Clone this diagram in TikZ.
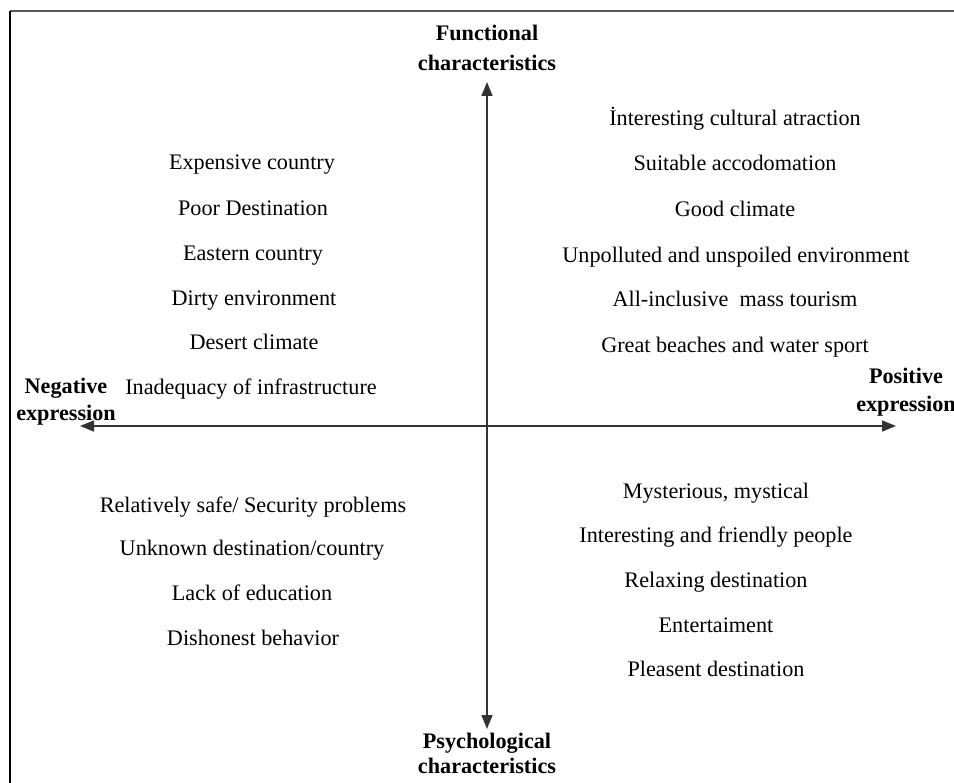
\documentclass[tikz,border=0pt]{standalone}
\usepackage{fontspec}
\setmainfont{Liberation Serif}
\usetikzlibrary{arrows.meta}
\begin{document}
\begin{tikzpicture}[x=1pt,y=-1pt,
  item/.style={font=\fontsize{22.2}{26}\selectfont, inner sep=0pt, text height=15pt, text depth=0pt, anchor=center},
  axlabel/.style={inner sep=0pt, align=center, anchor=north},
  axis/.style={line width=1.6pt, draw=black!80, -{Triangle[length=14pt,width=11pt]}}]
\useasboundingbox (0,0) rectangle (954,783);
% frame (top and left edges)
\draw[line width=1.2pt, black!65] (954,11) -- (10,11);
\draw[line width=1.2pt, black] (10,11) -- (10,783);
% axes
\coordinate (top) at (487,82);
\coordinate (bot) at (487,729);
\coordinate (lft) at (80,426);
\coordinate (rgt) at (896,426);
\coordinate (ctr) at (487,426);
\draw[axis] (ctr) -- (top);
\draw[axis] (ctr) -- (bot);
\draw[axis] (ctr) -- (lft);
\draw[axis] (ctr) -- (rgt);
% axis labels
\node[axlabel, font=\fontsize{22.2}{30}\selectfont\bfseries] (fun) at (487,25) {Functional\\characteristics};
\node[axlabel, font=\fontsize{22.2}{25}\selectfont\bfseries] (psy) at (487,733) {Psychological\\characteristics};
\node[axlabel, font=\fontsize{22.2}{27}\selectfont\bfseries] (neg) at (66,378) {Negative\\expression};
\node[axlabel, font=\fontsize{22.2}{28}\selectfont\bfseries] (pos) at (906,368) {Positive\\expression};
% top left
\node[item] (tl1) at (252,162) {Expensive country};
\node[item] (tl2) at (253,208) {Poor Destination};
\node[item] (tl3) at (253,253) {Eastern country};
\node[item] (tl4) at (254,298) {Dirty environment};
\node[item] (tl5) at (254,342) {Desert climate};
\node[item] (tl6) at (251,387) {Inadequacy of infrastructure};
% top right
\node[item] (tr1) at (735,118) {İnteresting cultural atraction};
\node[item] (tr2) at (735,163) {Suitable accodomation};
\node[item] (tr3) at (735,209) {Good climate};
\node[item] (tr4) at (736,255) {Unpolluted and unspoiled environment};
\node[item] (tr5) at (735,299) {All-inclusive\ \ mass tourism};
\node[item] (tr6) at (735,345) {Great beaches and water sport};
% bottom left
\node[item] (bl1) at (253,505) {Relatively safe/ Security problems};
\node[item] (bl2) at (252,548) {Unknown destination/country};
\node[item] (bl3) at (252,593) {Lack of education};
\node[item] (bl4) at (253,638) {Dishonest behavior};
% bottom right
\node[item] (br1) at (716,491) {Mysterious, mystical};
\node[item] (br2) at (716,535) {Interesting and friendly people};
\node[item] (br3) at (716,580) {Relaxing destination};
\node[item] (br4) at (716,625) {Entertaiment};
\node[item] (br5) at (716,669) {Pleasent destination};
\end{tikzpicture}
\end{document}
